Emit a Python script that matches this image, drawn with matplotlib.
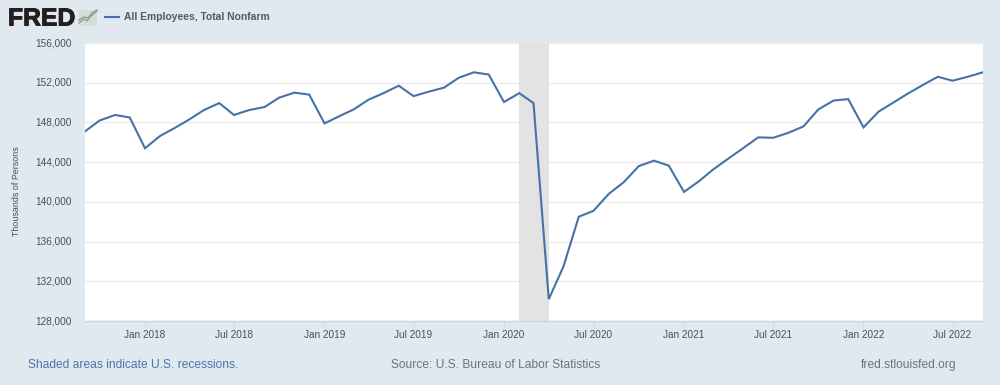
import datetime as dt
import matplotlib
matplotlib.use('Agg')
import matplotlib.pyplot as plt
import matplotlib.dates as mdates
import matplotlib.patheffects as pe
from matplotlib.patches import Rectangle

plt.rcParams['font.family'] = ['Liberation Sans', 'DejaVu Sans']

# monthly values, Sep 2017 to Sep 2022 (thousands of persons)
values_2017 = [147100, 148200, 148750, 148500]
values_2018 = [145400, 146650, 147400, 148300, 149250, 149950,
               148750, 149250, 149550, 150500, 151000, 150800]
values_2019 = [147900, 148650, 149300, 150300, 150950, 151700,
               150650, 151100, 151500, 152500, 153050, 152820]
values_2020 = [150050, 150950, 149950, 130200, 133500, 138500,
               139100, 140800, 142000, 143600, 144150, 143650]
values_2021 = [141000, 142100, 143250, 144350, 145400, 146500,
               146450, 146950, 147600, 149300, 150200, 150350]
values_2022 = [147500, 149100, 149950, 150900, 151750, 152600,
               152200, 152600, 153050]
values = values_2017 + values_2018 + values_2019 + values_2020 + values_2021 + values_2022

dates = []
year, month = 2017, 9
for v in values:
    dates.append(dt.date(year, month, 1))
    month += 1
    if month > 12:
        year, month = year + 1, 1

recession = (dt.date(2020, 2, 1), dt.date(2020, 4, 1))
y_ticks = [128000, 132000, 136000, 140000, 144000, 148000, 152000, 156000]
x_ticks = [dt.date(y, m, 1) for y in range(2018, 2023) for m in (1, 7)]

series_name = 'All Employees, Total Nonfarm'
y_label = 'Thousands of Persons'

BG = '#e1e9f0'
LINE = '#4572a7'
TEXT = '#4d4f53'

W, H = 1000, 385
fig = plt.figure(figsize=(W / 100, H / 100), dpi=100, facecolor=BG)
ax = fig.add_axes([85 / W, 1 - 321 / H, (983 - 85) / W, (321 - 43) / H])

ax.axvspan(recession[0], recession[1], color='#e3e3e3', lw=0, zorder=1)
ax.plot(dates, values, color=LINE, lw=1.5, solid_joinstyle='miter', zorder=3)

ax.set_xlim(dates[0], dates[-1])
ax.set_ylim(128000, 156000)
ax.set_yticks(y_ticks)
ax.set_yticklabels([f'{v:,}' for v in y_ticks])
ax.set_xticks(x_ticks)
ax.xaxis.set_major_formatter(mdates.DateFormatter('%b %Y'))
ax.grid(axis='y', color='#ebebeb', lw=1, zorder=0)
ax.set_axisbelow(True)

for s in ax.spines.values():
    s.set_visible(False)
ax.spines['bottom'].set_visible(True)
ax.spines['bottom'].set_color('#c8d7e6')
ax.spines['bottom'].set_linewidth(1)

ax.tick_params(axis='y', length=0, pad=9.4, labelsize=7.2, labelcolor=TEXT)
ax.tick_params(axis='x', length=5, width=0.8, color='#d3dde8', pad=1.6,
               labelsize=7.2, labelcolor=TEXT)
for t in ax.get_yticklabels():
    t.set_verticalalignment('center')

fig.text(16.5 / W, 1 - 191.5 / H, y_label, rotation=90, ha='center', va='center',
         fontsize=6.4, color=TEXT)

# header and footer in pixel coordinates
over = fig.add_axes([0, 0, 1, 1], facecolor='none')
over.set_xlim(0, W)
over.set_ylim(H, 0)
over.axis('off')

fred = over.text(8, 18.5, 'FRED', fontsize=17.8, fontweight='bold', color='#231f20',
                 ha='left', va='center')
fred.set_path_effects([pe.withStroke(linewidth=0.7, foreground='#231f20')])
over.add_patch(Rectangle((79, 10), 18, 16, color='#d5dcdc', lw=0))
over.plot([79, 84, 87, 91, 97], [23, 19, 21, 16, 11], color='#8faf5a', lw=1)
over.plot([79, 84, 88, 92, 97], [20, 17, 18, 13, 10], color='#7f9bb5', lw=1)

over.plot([105, 119], [17, 17], color=LINE, lw=1.5)
over.text(123.5, 17, series_name, fontsize=7.4, fontweight='bold', color='#55585c',
          ha='left', va='center')

over.text(28, 365, 'Shaded areas indicate U.S. recessions.', fontsize=8.65,
          color='#4a74a8', ha='left', va='center')
over.text(391, 365, 'Source: U.S. Bureau of Labor Statistics', fontsize=8.65,
          color='#707275', ha='left', va='center')
over.text(861, 365, 'fred.stlouisfed.org', fontsize=8.65,
          color='#707275', ha='left', va='center')

fig.savefig('out.png', dpi=100, facecolor=BG)
